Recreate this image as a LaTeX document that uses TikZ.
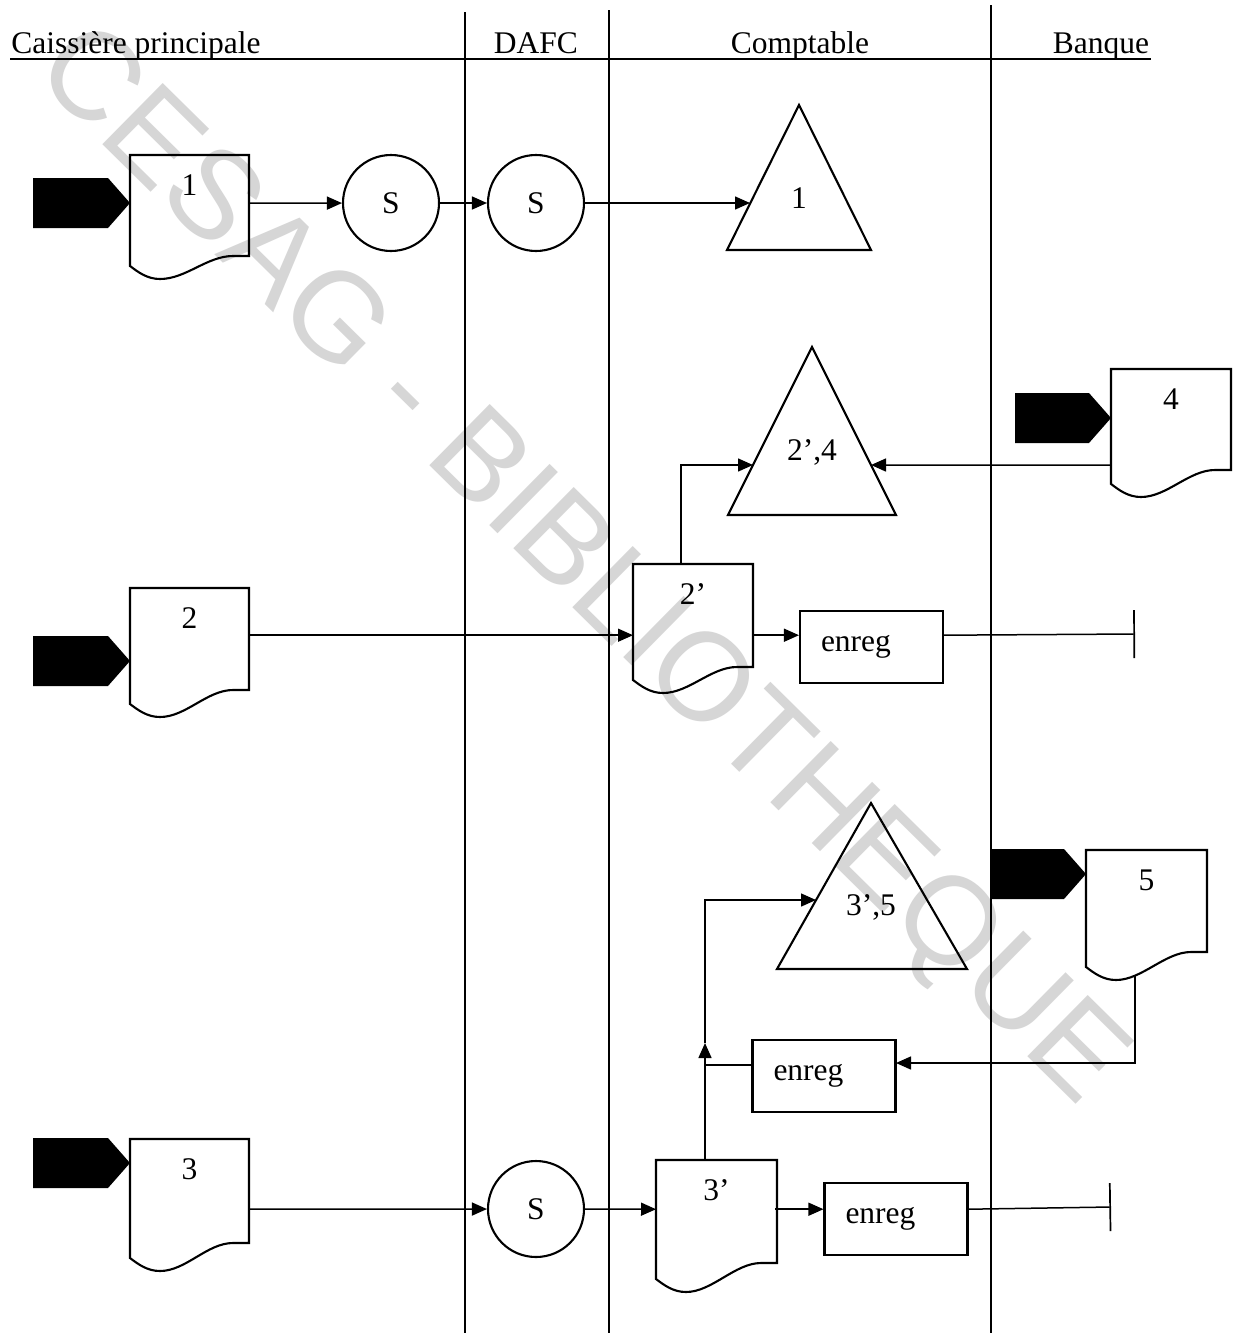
\documentclass[tikz,border=0pt]{standalone}
\usepackage{fontspec}
\setmainfont{Liberation Serif}
\newfontfamily\wmfont{Liberation Sans}
\usetikzlibrary{arrows.meta,calc}

% #1 name, #2 L, #3 T, #4 R, #5 bottom right, #6 bottom left, #7 connection y, #8 label
\newcommand\docshape[8]{%
  \node[docn, minimum height={(#7-#3)*2pt}] (#1) at (#2,#3) {};
  \draw[shp] (#2,#3) -- (#4,#3) -- (#4,#5) -- ({#4-16},#5)
     .. controls ({#4-42},#5) and ({#2+56},{#6+13}) .. ({#2+30},{#6+13})
     .. controls ({#2+17},{#6+13}) and ({#2+8},{#6+6}) .. (#2,#6) -- cycle;
  \node[lbl] (#1-t) at ({(#2+#4)/2},{#3+30}) {#8};
}
% #1 left x, #2 tip x, #3 centre y
\newcommand\pentashape[3]{%
  \fill (#1,{#3-25}) -- ({#2-22},{#3-25}) -- (#2,#3) -- ({#2-22},{#3+25}) -- (#1,{#3+25}) -- cycle;
}

\begin{document}
\begin{tikzpicture}[x=1pt,y=-1pt,
  lbl/.style={font=\fontsize{31.5}{36}\selectfont, inner sep=0pt},
  shp/.style={line width=2.1pt},
  conn/.style={line width=1.5pt},
  arr/.style={conn, -{Triangle[length=15pt,width=13pt]}},
  endbar/.style={conn, -{Bar[width=48pt,line width=1.7pt]}},
  circ/.style={circle, draw, shp, minimum size=96pt, inner sep=0pt, font=\fontsize{31.5}{36}\selectfont},
  ebox/.style={draw, shp, minimum height=72pt, inner xsep=21pt, inner ysep=0pt, text width=101pt, align=left, font=\fontsize{31.5}{36}\selectfont},
  docn/.style={inner sep=0pt, minimum width=119pt, anchor=north west},
  lane/.style={line width=1.9pt},
]
\useasboundingbox (0,0) rectangle (1239,1333);
\fill[white] (0,0) rectangle (1239,1333);

% watermark
\node[font=\wmfont\fontsize{125}{125}\selectfont, text=black!16, rotate=-44.6, inner sep=0pt] (wm) at (578,568) {CESAG - BIBLIOTHEQUE};

% lanes and header
\draw[lane] (10,59) -- (1151,59);
\draw[lane] (465,12) -- (465,1333);
\draw[lane] (609,10) -- (609,1333);
\draw[lane] (991,5) -- (991,1333);
\node[lbl, anchor=base] (h1) at (136,53) {Caissière principale};
\node[lbl, anchor=base] (h2) at (536,53) {DAFC};
\node[lbl, anchor=base] (h3) at (800,53) {Comptable};
\node[lbl, anchor=base] (h4) at (1101,53) {Banque};

% documents
\docshape{d1}{130}{155}{249}{256}{266}{203}{1}
\docshape{d2}{130}{588}{249}{690}{704}{635}{2}
\docshape{d3}{130}{1139}{249}{1243}{1258}{1209}{3}
\docshape{d4}{1111}{369}{1231}{470}{484}{465}{4}
\docshape{d5}{1086}{850}{1207}{952}{967}{900}{5}
\docshape{d2p}{633}{564}{753}{667}{680}{635}{2’}
\docshape{d3p}{656}{1160}{777}{1263}{1279}{1209}{3’}

% entry markers
\pentashape{33}{130}{203}
\pentashape{33}{130}{661}
\pentashape{33}{130}{1163}
\pentashape{1015}{1111}{418}
\pentashape{991}{1086}{874}

% circles
\node[circ] (c1) at (391,203) {S};
\node[circ] (c2) at (536,203) {S};
\node[circ] (c3) at (536,1209) {S};

% triangles
\draw[shp] (799,105) -- (871,250) -- (727,250) -- cycle;
\node[lbl] (t1) at (799,198) {1};
\draw[shp] (812,347) -- (896,515) -- (728,515) -- cycle;
\node[lbl] (t2) at (812,452) {2’,4};
\draw[shp] (871,803) -- (967,969) -- (777,969) -- cycle;
\node[lbl] (t3) at (871,907) {3’,5};

% enreg boxes
\node[ebox] (e1) at (871.5,647) {enreg};
\node[ebox] (e2) at (824,1076) {enreg};
\node[ebox] (e3) at (896,1219) {enreg};

% connection points
\coordinate (t1in) at (750,203);
\coordinate (t2inL) at (753,465);
\coordinate (t2inR) at (871,465);
\coordinate (t3in) at (816,900);
\coordinate (d2ptop) at (681,564);
\coordinate (d3ptop) at (705,1160);
\coordinate (midup) at (705,1043);
\coordinate (e2in) at (896,1063);
\coordinate (e2out) at (752,1065);
\coordinate (d5out) at (1135,976);
\coordinate (end1) at (1135,634);
\coordinate (end2) at (1111,1207);

% connectors row 1
\draw[arr] (d1.east) -- (c1);
\draw[arr] (c1) -- (c2);
\draw[arr] (c2.east) -- (t1in);

% row 2
\draw[arr] (d2.east) -- (d2p.west);
\draw[arr] (d2ptop) |- (t2inL);
\draw[arr] (d4.west) -- (t2inR);
\draw[arr] (d2p.east) -- (d2p.east -| e1.west);
\draw[endbar] (e1.east |- d2p.east) -- (end1);

% row 3
\draw[arr] (d3.east) -- (c3);
\draw[arr] (c3) -- (d3p.west);
\draw[arr] (d3p.east) -- (d3p.east -| e3.west);
\draw[endbar] (e3.east |- d3p.east) -- (end2);
\draw[arr] (d3ptop) -- (midup);
\draw[arr] (midup) |- (t3in);
\draw[conn] (e2out) -- (e2out -| d3ptop);
\draw[arr] (d5out) |- (e2in);
\end{tikzpicture}
\end{document}
